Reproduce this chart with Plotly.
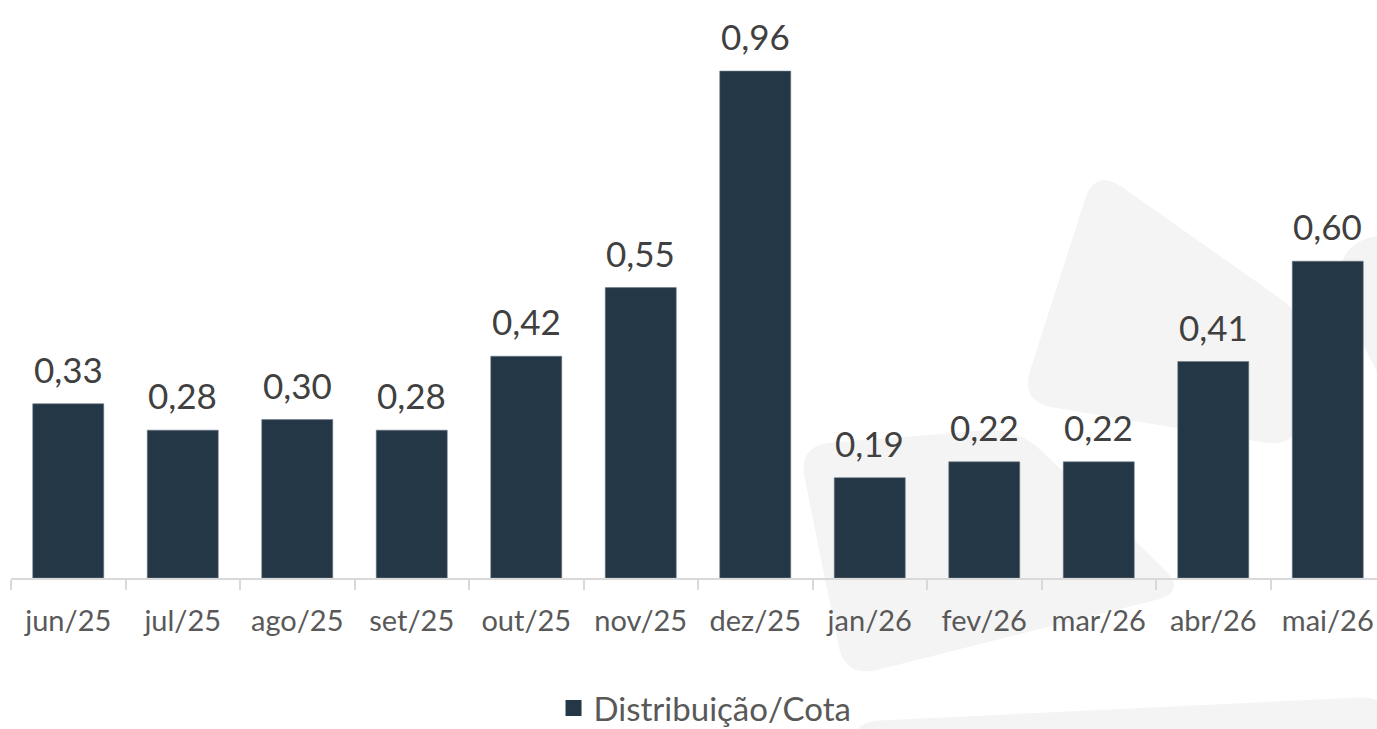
import math
import plotly.graph_objects as go

categories = ["jun/25", "jul/25", "ago/25", "set/25", "out/25", "nov/25",
              "dez/25", "jan/26", "fev/26", "mar/26", "abr/26", "mai/26"]
values = [0.33, 0.28, 0.30, 0.28, 0.42, 0.55, 0.96, 0.19, 0.22, 0.22, 0.41, 0.60]
series_name = "Distribuição/Cota"

BAR_COLOR = "#243746"
FONT = "Lato"

W, H = 1377, 729
ML, MR, MT, MB = 11, 0, 0, 151
PW, PH = W - ML - MR, H - MT - MB


def to_paper(p):
    return ((p[0] - ML) / PW, (H - MB - p[1]) / PH)


def rounded_path(pts, r):
    n = len(pts)
    segs = []
    for i in range(n):
        p0, p1, p2 = pts[i - 1], pts[i], pts[(i + 1) % n]

        def cut(a, b):
            dx, dy = b[0] - a[0], b[1] - a[1]
            d = math.hypot(dx, dy)
            t = min(r, d / 2) / d
            return (a[0] + dx * t, a[1] + dy * t)
        segs.append((cut(p1, p0), p1, cut(p1, p2)))

    def fmt(p):
        q = to_paper(p)
        return f"{q[0]:.5f},{q[1]:.5f}"
    s = f"M {fmt(segs[0][0])} Q {fmt(segs[0][1])} {fmt(segs[0][2])}"
    for a, c, b in segs[1:]:
        s += f" L {fmt(a)} Q {fmt(c)} {fmt(b)}"
    return s + " Z"


wm_color = "#f4f4f4"
watermark = [
    ([(1095, 168), (1308, 318), (1298, 448), (1020, 402)], 34),
    ([(798, 445), (1018, 428), (1188, 592), (845, 678)], 34),
    ([(850, 722), (1390, 696), (1390, 780), (850, 780)], 30),
    ([(1390, 228), (1336, 252), (1352, 325), (1390, 395)], 30),
]
shapes = [dict(type="path", xref="paper", yref="paper",
               path=rounded_path(pts, r), fillcolor=wm_color,
               line=dict(width=0), layer="below")
          for pts, r in watermark]

fig = go.Figure()
fig.add_trace(go.Bar(
    x=categories, y=values, name=series_name,
    marker=dict(color=BAR_COLOR, line=dict(color="#6b7885", width=0.6)),
    showlegend=False,
))
# legend entry with a larger square symbol
fig.add_trace(go.Scatter(
    x=[None], y=[None], mode="markers", name=series_name,
    marker=dict(symbol="square", size=20, color=BAR_COLOR),
    showlegend=True,
))

annotations = [
    dict(x=c, y=v, xref="x", yref="y", text=f"{v:.2f}".replace(".", ","),
         showarrow=False, yanchor="middle", yshift=35,
         font=dict(family=FONT, size=35, color="#404040"))
    for c, v in zip(categories, values)
]

fig.update_layout(
    width=W, height=H,
    margin=dict(l=ML, r=MR, t=MT, b=MB, autoexpand=False),
    paper_bgcolor="white", plot_bgcolor="rgba(0,0,0,0)",
    separators=",.",
    bargap=0.38,
    font=dict(family=FONT, color="#595959"),
    shapes=shapes,
    annotations=annotations,
    legend=dict(orientation="h", xref="container", yref="container",
                x=0.512, xanchor="center", y=(H - 708) / H, yanchor="middle",
                font=dict(family=FONT, size=33, color="#595959"),
                itemsizing="trace", bgcolor="rgba(0,0,0,0)"),
    xaxis=dict(
        type="category", range=[-0.5, 11.43],
        showline=True, linecolor="#d9d9d9", linewidth=1.5,
        ticks="outside", tickson="boundaries", ticklen=10,
        tickcolor="#d9d9d9", tickwidth=1.5,
        tickfont=dict(family=FONT, size=29, color="#595959"),
        ticklabelstandoff=16,
        showgrid=False, zeroline=False,
    ),
    yaxis=dict(range=[0, 578 / 528], visible=False, showgrid=False,
               zeroline=False),
)

fig.write_html("out.html", config={"displayModeBar": False},
               post_script="document.body.style.margin='0';document.body.style.overflow='hidden';")
